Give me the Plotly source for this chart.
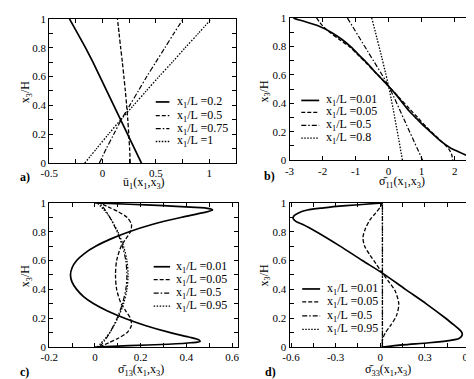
import plotly.graph_objects as go

FONT = "'Liberation Serif', 'Times New Roman', Times, 'DejaVu Serif', serif"
W, H = 474, 379

# ---------------- data ----------------
# panel a : u1 vs x3/H
A_Y = [0, 0.1, 0.2, 0.3, 0.4, 0.5, 0.6, 0.7, 0.8, 0.9, 1.0]
A_02 = [0.365, 0.30, 0.235, 0.17, 0.105, 0.04, -0.02, -0.09, -0.16, -0.235, -0.31]
A_05 = [0.26, 0.254, 0.246, 0.237, 0.226, 0.214, 0.2, 0.186, 0.17, 0.155, 0.14]
A_075 = [-0.03, 0.035, 0.105, 0.175, 0.255, 0.335, 0.415, 0.50, 0.585, 0.67, 0.757]
A_1 = [-0.167, -0.057, 0.055, 0.17, 0.29, 0.41, 0.53, 0.655, 0.775, 0.9, 1.02]
A_NAMES = ["x<sub>1</sub>/L =0.2", "x<sub>1</sub>/L =0.5", "x<sub>1</sub>/L =0.75", "x<sub>1</sub>/L =1"]

# panel b : sigma11
B_Y001 = [1.0, 0.995, 0.985, 0.973, 0.943, 0.898, 0.85, 0.796, 0.74, 0.683, 0.63, 0.581, 0.52,
          0.457, 0.40, 0.344, 0.29, 0.23, 0.18, 0.129, 0.09, 0.061, 0.035, 0.016, 0.005, 0.0]
B_001 = [-2.88, -2.83, -2.7, -2.52, -2.12, -1.73, -1.42, -1.14, -0.9, -0.65, -0.45, -0.25, 0.0,
         0.24, 0.43, 0.63, 0.86, 1.12, 1.36, 1.61, 1.85, 2.1, 2.35, 2.55, 2.58, 2.52]
B_Y005 = [1.0, 0.97, 0.94, 0.9, 0.85, 0.8, 0.74, 0.683, 0.6, 0.52, 0.44, 0.36, 0.3, 0.23, 0.17,
          0.12, 0.08, 0.04, 0.0]
B_005 = [-2.18, -2.09, -1.98, -1.79, -1.5, -1.2, -0.93, -0.68, -0.33, 0.0, 0.32, 0.64, 0.88,
         1.16, 1.43, 1.66, 1.82, 1.91, 1.94]
B_Y05 = [1.0, 0.76, 0.52, 0.26, 0.0]
B_05 = [-1.25, -0.62, 0.0, 0.52, 1.03]
B_Y08 = [1.0, 0.52, 0.0]
B_08 = [-0.51, 0.0, 0.42]
B_NAMES = ["x<sub>1</sub>/L =0.01", "x<sub>1</sub>/L =0.05", "x<sub>1</sub>/L =0.5", "x<sub>1</sub>/L =0.8"]

# panel c : sigma13
C_Y001 = [0, 0.01, 0.02, 0.03, 0.04, 0.05, 0.07, 0.1, 0.15, 0.2, 0.25, 0.3, 0.35, 0.4, 0.45, 0.5,
          0.55, 0.6, 0.65, 0.7, 0.75, 0.8, 0.85, 0.9, 0.93, 0.95, 0.96, 0.97, 0.98, 0.99, 1.0]
C_001 = [0.0, 0.15, 0.32, 0.42, 0.46, 0.455, 0.41, 0.33, 0.22, 0.13, 0.055, -0.005, -0.05, -0.08,
         -0.1, -0.107, -0.1, -0.08, -0.045, 0.005, 0.07, 0.15, 0.25, 0.38, 0.47, 0.515, 0.5, 0.42,
         0.3, 0.15, 0.0]
C_Y005 = [0, 0.03, 0.06, 0.1, 0.15, 0.2, 0.25, 0.3, 0.4, 0.5, 0.6, 0.7, 0.75, 0.8, 0.85, 0.9,
          0.94, 0.97, 1.0]
C_005 = [0.02, 0.06, 0.1, 0.14, 0.16, 0.155, 0.135, 0.115, 0.095, 0.09, 0.095, 0.115, 0.135,
         0.155, 0.16, 0.14, 0.1, 0.06, 0.02]
C_YP = [0, 0.05, 0.1, 0.2, 0.3, 0.4, 0.5, 0.6, 0.7, 0.8, 0.9, 0.95, 1.0]
C_05 = [0.02, 0.045, 0.065, 0.097, 0.12, 0.135, 0.14, 0.135, 0.12, 0.097, 0.065, 0.045, 0.02]
C_095 = [0.01, 0.04, 0.065, 0.1, 0.125, 0.14, 0.145, 0.14, 0.125, 0.1, 0.065, 0.04, 0.01]
C_NAMES = ["x<sub>1</sub>/L =0.01", "x<sub>1</sub>/L =0.05", "x<sub>1</sub>/L =0.5", "x<sub>1</sub>/L =0.95"]

# panel d : sigma33
D_Y001 = [1.0, 0.99, 0.98, 0.965, 0.95, 0.93, 0.91, 0.89, 0.87, 0.85, 0.8, 0.7, 0.6, 0.513, 0.4,
          0.3, 0.2, 0.15, 0.12, 0.1, 0.08, 0.06, 0.045, 0.03, 0.015, 0.0]
D_001 = [0.015, -0.1, -0.23, -0.38, -0.49, -0.55, -0.58, -0.585, -0.565, -0.52, -0.43, -0.27,
         -0.12, 0.015, 0.17, 0.31, 0.44, 0.5, 0.535, 0.55, 0.55, 0.53, 0.46, 0.33, 0.15, 0.015]
D_Y005 = [1.0, 0.97, 0.93, 0.88, 0.82, 0.76, 0.7, 0.64, 0.58, 0.513, 0.45, 0.39, 0.3, 0.22, 0.15,
          0.1, 0.05, 0.0]
D_005 = [0.015, 0.0, -0.03, -0.07, -0.1, -0.116, -0.105, -0.07, -0.03, 0.015, 0.06, 0.1, 0.125,
         0.11, 0.07, 0.035, 0.015, 0.015]
D_YV = [0.0, 0.5, 1.0]
D_05 = [0.015, 0.015, 0.015]
D_095 = [0.015, 0.015, 0.015]
D_NAMES = ["x<sub>1</sub>/L =0.01", "x<sub>1</sub>/L =0.05", "x<sub>1</sub>/L =0.5", "x<sub>1</sub>/L =0.95"]

Y_LABELED = [0, 0.2, 0.4, 0.6, 0.8, 1.0]
Y_LABELS = ["0", "0.2", "0.4", "0.6", "0.8", "1"]
Y_MINOR = [0.1, 0.3, 0.5, 0.7, 0.9]

# ---------------- styling ----------------
STYLES = [
    dict(dash="solid", width=1.7),
    dict(dash="4px,2px", width=1.3),
    dict(dash="5px,2px,1.5px,2px", width=1.2),
    dict(dash="1.5px,1.5px", width=1.3),
]

fig = go.Figure()


def xd(p0, p1):
    return [p0 / W, p1 / W]


def yd(top, bottom):
    return [1 - bottom / H, 1 - top / H]


panels = [
    dict(k="", xdom=xd(33, 224), ydom=yd(5, 154), xrange=[-0.5, 1.25],
         xt=[-0.5, 0, 0.5, 1.0], xtt=["-0.5", "0", "0.5", "1"], xminor=[-0.25, 0.25, 0.75],
         series=[(A_02, A_Y), (A_05, A_Y), (A_075, A_Y), (A_1, A_Y)], names=A_NAMES,
         leg=dict(x0=0.571, x1=0.644, tx=0.672, ys=[0.424, 0.329, 0.239, 0.150]),
         xtitle="u\u0304<sub>1</sub>(x<sub>1</sub>,x<sub>3</sub>)", xt_pos=(130, 175),
         ytitle_pos=(10, 80), lab="a)", lab_pos=(8, 168), smooth=[False, True, True, True]),
    dict(k="2", xdom=xd(279, 470), ydom=yd(4, 151), xrange=[-3.0, 2.65],
         xt=[-3, -2, -1, 0, 1, 2], xtt=["-3", "-2", "-1", "0", "1", "2"], xminor=[],
         series=[(B_001, B_Y001), (B_005, B_Y005), (B_05, B_Y05), (B_08, B_Y08)], names=B_NAMES,
         leg=dict(x0=0.063, x1=0.159, tx=0.185, ys=[0.42, 0.336, 0.245, 0.155]),
         xtitle="\u03c3\u0304<sub>11</sub>(x<sub>1</sub>,x<sub>3</sub>)", xt_pos=(394, 174),
         ytitle_pos=(254, 80), lab="b)", lab_pos=(258, 167), smooth=[True, True, True, True]),
    dict(k="3", xdom=xd(33, 226), ydom=yd(195, 344), xrange=[-0.2, 0.625],
         xt=[-0.2, 0, 0.2, 0.4, 0.6], xtt=["-0.2", "0", "0.2", "0.4", "0.6"],
         xminor=[-0.1, 0.1, 0.3, 0.5],
         series=[(C_001, C_Y001), (C_005, C_Y005), (C_05, C_YP), (C_095, C_YP)], names=C_NAMES,
         leg=dict(x0=0.554, x1=0.641, tx=0.66, ys=[0.557, 0.468, 0.374, 0.284]),
         xtitle="\u03c3\u0304<sub>13</sub>(x<sub>1</sub>,x<sub>3</sub>)", xt_pos=(127, 368),
         ytitle_pos=(10, 270), lab="c)", lab_pos=(8, 370), smooth=[True, True, True, True]),
    dict(k="4", xdom=xd(279, 470), ydom=yd(195, 344), xrange=[-0.61, 0.645],
         xt=[-0.6, -0.3, 0, 0.3, 0.6], xtt=["-0.6", "-0.3", "0", "0.3", "0.6"],
         xminor=[-0.45, -0.15, 0.15, 0.45],
         series=[(D_001, D_Y001), (D_005, D_Y005), (D_05, D_YV), (D_095, D_YV)], names=D_NAMES,
         leg=dict(x0=0.068, x1=0.164, tx=0.19, ys=[0.403, 0.313, 0.216, 0.123]),
         xtitle="\u03c3\u0304<sub>33</sub>(x<sub>1</sub>,x<sub>3</sub>)", xt_pos=(380, 368),
         ytitle_pos=(254, 270), lab="d)", lab_pos=(260, 370), smooth=[True, True, False, False]),
]

axis_common = dict(showline=True, linecolor="black", linewidth=1.3, mirror="ticks",
                   ticks="inside", ticklen=4, tickwidth=1, tickcolor="black",
                   showgrid=False, zeroline=False,
                   tickfont=dict(family=FONT, size=11, color="black"))

shapes = []
annotations = []
for p in panels:
    k = p["k"]
    xa, ya = "x" + k, "y" + k
    xminor = dict(tickvals=p["xminor"], ticks="inside", ticklen=4, tickcolor="black",
                  tickwidth=1, showgrid=False) if p["xminor"] else None
    xaxis = dict(domain=p["xdom"], range=p["xrange"], anchor=ya,
                 tickmode="array", tickvals=p["xt"], ticktext=p["xtt"], **axis_common)
    if xminor:
        xaxis["minor"] = xminor
    fig.update_layout(**{
        "xaxis" + k: xaxis,
        "yaxis" + k: dict(domain=p["ydom"], range=[0, 1], anchor=xa,
                          tickmode="array", tickvals=Y_LABELED, ticktext=Y_LABELS,
                          minor=dict(tickvals=Y_MINOR, ticks="inside", ticklen=4,
                                     tickcolor="black", tickwidth=1, showgrid=False),
                          **axis_common),
    })
    for i, ((xs, ys), name) in enumerate(zip(p["series"], p["names"])):
        st = STYLES[i]
        line = dict(color="black", width=st["width"], dash=st["dash"])
        if p["smooth"][i]:
            line.update(shape="spline", smoothing=0.8)
        fig.add_trace(go.Scatter(x=xs, y=ys, mode="lines", line=line, name=name,
                                 xaxis=xa, yaxis=ya, showlegend=False, hoverinfo="skip"))
        # legend entry (drawn as layout decoration)
        lg = p["leg"]
        shapes.append(dict(type="line", xref=xa + " domain", yref=ya + " domain",
                           x0=lg["x0"], x1=lg["x1"], y0=lg["ys"][i], y1=lg["ys"][i],
                           line=dict(color="black", width=st["width"], dash=st["dash"])))
        annotations.append(dict(text=name, xref=xa + " domain", yref=ya + " domain",
                                x=lg["tx"], y=lg["ys"][i], xanchor="left", yanchor="middle",
                                showarrow=False,
                                font=dict(family=FONT, size=12, color="black")))
    # axis titles
    annotations.append(dict(text=p["xtitle"], xref="paper", yref="paper",
                            x=p["xt_pos"][0] / W, y=1 - p["xt_pos"][1] / H,
                            xanchor="center", yanchor="middle", showarrow=False,
                            font=dict(family=FONT, size=12, color="black")))
    annotations.append(dict(text="x<sub>3</sub>/H", xref="paper", yref="paper",
                            x=p["ytitle_pos"][0] / W, y=1 - p["ytitle_pos"][1] / H,
                            xanchor="center", yanchor="middle", textangle=-90, showarrow=False,
                            font=dict(family=FONT, size=12, color="black")))
    annotations.append(dict(text="<b>" + p["lab"] + "</b>", xref="paper", yref="paper",
                            x=p["lab_pos"][0] / W, y=1 - p["lab_pos"][1] / H,
                            xanchor="center", yanchor="middle", showarrow=False,
                            font=dict(family=FONT, size=12, color="black")))

fig.update_layout(width=W, height=H, margin=dict(l=0, r=0, t=0, b=0),
                  paper_bgcolor="white", plot_bgcolor="white",
                  shapes=shapes, annotations=annotations, showlegend=False)

fig.write_html("out.html")
